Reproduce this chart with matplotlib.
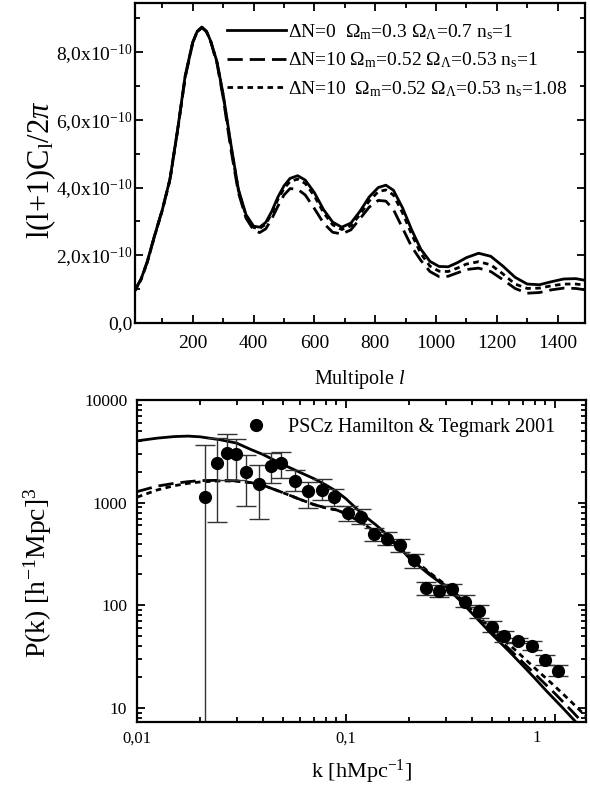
import numpy as np
import matplotlib
matplotlib.use("Agg")
import matplotlib.pyplot as plt
import matplotlib.transforms as mtransforms
from matplotlib.ticker import FixedLocator, MultipleLocator, LogLocator, NullFormatter

plt.rcParams['font.family'] = ['Liberation Serif', 'DejaVu Serif']
plt.rcParams['mathtext.fontset'] = 'custom'
plt.rcParams['mathtext.rm'] = 'Liberation Serif'
plt.rcParams['mathtext.it'] = 'Liberation Serif:italic'
plt.rcParams['mathtext.bf'] = 'Liberation Serif:bold'

# ---------------- Top panel data (CMB spectra, units of 1e-10) ----------------
SCALE = 1e-10
ell = [10, 30, 50, 75, 100, 125, 150, 175, 200, 215, 230, 245, 260, 280, 300,
       325, 350, 375, 400, 420, 440, 460, 480, 500, 520, 545, 570, 600, 630,
       660, 690, 720, 750, 780, 810, 835, 860, 890, 920, 950, 980, 1010, 1040,
       1070, 1100, 1140, 1180, 1220, 1260, 1300, 1340, 1380, 1420, 1460, 1490]
cl_dn0 = [0.97, 1.30, 1.80, 2.60, 3.35, 4.25, 5.70, 7.30, 8.30, 8.62, 8.74, 8.62,
          8.30, 7.70, 6.75, 5.30, 3.95, 3.20, 2.86, 2.83, 2.97, 3.30, 3.72, 4.05,
          4.27, 4.35, 4.22, 3.85, 3.35, 2.98, 2.83, 2.95, 3.30, 3.72, 4.00, 4.07,
          3.92, 3.40, 2.75, 2.18, 1.82, 1.67, 1.66, 1.78, 1.93, 2.06, 1.97, 1.68,
          1.35, 1.15, 1.13, 1.22, 1.30, 1.31, 1.26]
cl_dn10 = [0.97, 1.30, 1.80, 2.60, 3.35, 4.25, 5.70, 7.25, 8.28, 8.60, 8.72, 8.60,
           8.28, 7.65, 6.65, 5.15, 3.85, 3.10, 2.74, 2.67, 2.78, 3.08, 3.45, 3.78,
           3.97, 3.95, 3.78, 3.38, 2.95, 2.68, 2.63, 2.75, 3.08, 3.42, 3.62, 3.60,
           3.35, 2.80, 2.25, 1.85, 1.52, 1.37, 1.38, 1.48, 1.58, 1.62, 1.52, 1.28,
           1.02, 0.88, 0.90, 0.98, 1.03, 1.02, 0.98]
cl_dn10_ns = [0.95, 1.28, 1.78, 2.58, 3.33, 4.22, 5.67, 7.27, 8.29, 8.61, 8.73, 8.61,
              8.29, 7.68, 6.72, 5.25, 3.92, 3.17, 2.82, 2.79, 2.92, 3.24, 3.65, 3.97,
              4.18, 4.25, 4.12, 3.75, 3.26, 2.90, 2.76, 2.87, 3.20, 3.60, 3.88, 3.93,
              3.78, 3.25, 2.62, 2.05, 1.68, 1.53, 1.52, 1.62, 1.74, 1.81, 1.72, 1.45,
              1.15, 1.02, 1.03, 1.10, 1.15, 1.15, 1.12]
top_labels = [r"$\Delta$N=0  $\Omega_\mathregular{m}$=0.3 $\Omega_\mathregular{\Lambda}$=0.7 n$_\mathregular{s}$=1",
              r"$\Delta$N=10 $\Omega_\mathregular{m}$=0.52 $\Omega_\mathregular{\Lambda}$=0.53 n$_\mathregular{s}$=1",
              r"$\Delta$N=10  $\Omega_\mathregular{m}$=0.52 $\Omega_\mathregular{\Lambda}$=0.53 n$_\mathregular{s}$=1.08"]
top_xticks = [200, 400, 600, 800, 1000, 1200, 1400]
top_yticks = [0, 2, 4, 6, 8]
top_yticklabels = ["0,0", r"2,0x10$^\mathregular{-10}$", r"4,0x10$^\mathregular{-10}$",
                   r"6,0x10$^\mathregular{-10}$", r"8,0x10$^\mathregular{-10}$"]

# ---------------- Bottom panel data (matter power spectrum) ----------------
k_th = [0.01, 0.0125, 0.015, 0.0175, 0.02, 0.025, 0.03, 0.035, 0.04, 0.05, 0.06,
        0.07, 0.08, 0.09, 0.1, 0.12, 0.14, 0.16, 0.18, 0.2, 0.25, 0.3, 0.35, 0.4,
        0.5, 0.6, 0.7, 0.8, 0.9, 1.0, 1.1, 1.2, 1.3, 1.4]
pk_dn0 = [4000, 4250, 4400, 4450, 4380, 4100, 3800, 3300, 2950, 2350, 1980, 1720,
          1490, 1290, 1090, 770, 600, 470, 370, 290, 200, 152, 112, 84, 52, 36, 26,
          19.5, 15, 12, 9.8, 8.1, 6.8, 5.8]
pk_dn10 = [1280, 1450, 1540, 1600, 1640, 1650, 1630, 1570, 1480, 1250, 1080, 960,
           890, 850, 780, 630, 510, 440, 370, 300, 205, 155, 118, 86, 54, 38, 28,
           21.5, 17, 13.8, 11.3, 9.4, 7.9, 6.7]
pk_dn10_ns = [1130, 1330, 1460, 1540, 1590, 1630, 1620, 1565, 1480, 1250, 1080, 960,
              890, 850, 780, 630, 510, 440, 372, 305, 210, 158, 121, 90, 58, 42, 31.5,
              24.5, 19.7, 16.2, 13.5, 11.4, 9.7, 8.4]

k_obs = [0.0212, 0.02424, 0.02689, 0.02984, 0.03338, 0.03828, 0.04373, 0.04913,
         0.0573, 0.06572, 0.07664, 0.0879, 0.1017, 0.1176, 0.1360, 0.1573, 0.1805,
         0.2104, 0.2414, 0.2792, 0.3228, 0.3719, 0.4319, 0.4977, 0.5731, 0.6655,
         0.7729, 0.8941, 1.0295]
p_obs = [1136, 2455, 3076, 3008, 1992, 1510, 2280, 2455, 1626, 1300, 1330, 1136,
         787, 725, 491, 446, 384, 274, 146, 138, 145, 108, 87.7, 61.7, 50, 45.4,
         40, 29.6, 23.1]
p_lo = [1, 648, 1652, 1652, 928, 698, 1568, 1727, 1300, 881, 1053, 928, 662, 624,
        423, 387, 331, 232, 126, 121, 126, 96, 75.5, 55, 44, 43, 37, 26, 20.5]
p_hi = [3622, 4300, 4645, 4210, 2919, 2328, 3027, 3118, 2084, 1603, 1690, 1349, 928,
        861, 570, 517, 438, 313, 168, 157, 160, 126, 100, 70, 56.6, 47.6, 44.6, 33, 26]
obs_label = "PSCz Hamilton & Tegmark 2001"
bot_xticks = [0.01, 0.1, 1]
bot_xticklabels = ["0,01", "0,1", "1"]
bot_yticks = [10, 100, 1000, 10000]
bot_yticklabels = ["10", "100", "1000", "10000"]

# ---------------- Figure ----------------
W, H = 590, 788
fig = plt.figure(figsize=(W / 100, H / 100), dpi=100)

def frac(l, t, r, b):
    return [l / W, 1 - b / H, (r - l) / W, (b - t) / H]

ax1 = fig.add_axes(frac(135, 3, 585, 323))
ax2 = fig.add_axes(frac(137, 400, 586, 722))

for ax in (ax1, ax2):
    for s in ax.spines.values():
        s.set_linewidth(1.6)
    ax.tick_params(which='both', direction='in', top=True, right=True, width=1.3)
    ax.tick_params(which='major', length=6)
    ax.tick_params(which='minor', length=3.5)

# Top panel
l_arr = np.array(ell)
ax1.plot(l_arr, np.array(cl_dn0) * SCALE, color='black', lw=2.0, ls='-', label=top_labels[0])
ax1.plot(l_arr, np.array(cl_dn10) * SCALE, color='black', lw=2.0, ls=(0, (5.5, 2.5)), label=top_labels[1])
ax1.plot(l_arr, np.array(cl_dn10_ns) * SCALE, color='black', lw=2.0, ls=(0, (2, 1.6)), label=top_labels[2])
ax1.set_xlim(10, 1490)
ax1.set_ylim(0, 9.45e-10)
ax1.xaxis.set_major_locator(FixedLocator(top_xticks))
ax1.xaxis.set_minor_locator(MultipleLocator(100))
ax1.set_xticklabels([str(t) for t in top_xticks])
ax1.yaxis.set_major_locator(FixedLocator([v * SCALE for v in top_yticks]))
ax1.yaxis.set_minor_locator(MultipleLocator(1e-10))
ax1.set_yticklabels(top_yticklabels)
ax1.tick_params(axis='x', labelsize=14, pad=9)
ax1.tick_params(axis='y', labelsize=14, pad=2)
ax1.set_xlabel(r"Multipole $l$", fontsize=14.5)
ax1.xaxis.set_label_coords(0.5, -0.141)
ax1.set_ylabel(r"l(l+1)C$_\mathregular{l}$/2$\pi$", fontsize=22)
ax1.yaxis.set_label_coords(-0.172, 0.48)
ax1.legend(loc='upper left', bbox_to_anchor=(0.205, 0.94), frameon=False,
           fontsize=14, handlelength=3.0, handletextpad=0.1, labelspacing=0.45,
           borderpad=0, borderaxespad=0)

# Bottom panel
ax2.set_xscale('log')
ax2.set_yscale('log')
ax2.plot(k_th, pk_dn0, color='black', lw=2.0, ls='-')
ax2.plot(k_th, pk_dn10, color='black', lw=2.0, ls=(0, (5.5, 2.5)))
ax2.plot(k_th, pk_dn10_ns, color='black', lw=2.0, ls=(0, (2, 1.6)))
p_obs_a = np.array(p_obs)
yerr = [p_obs_a - np.array(p_lo), np.array(p_hi) - p_obs_a]
ax2.errorbar(k_obs, p_obs, yerr=yerr, fmt='none', ecolor='#333333', elinewidth=1.0,
             capsize=7, capthick=1.0)
ax2.plot(k_obs, p_obs, 'o', color='black', markersize=8.5, ls='none', label=obs_label)
ax2.set_xlim(0.01, 1.407)
ax2.set_ylim(7.3, 10000)
ax2.xaxis.set_major_locator(FixedLocator(bot_xticks))
ax2.xaxis.set_minor_locator(LogLocator(base=10, subs=np.arange(2, 10), numticks=20))
ax2.xaxis.set_minor_formatter(NullFormatter())
ax2.set_xticklabels(bot_xticklabels)
ax2.yaxis.set_major_locator(FixedLocator(bot_yticks))
ax2.yaxis.set_minor_locator(LogLocator(base=10, subs=np.arange(2, 10), numticks=20))
ax2.yaxis.set_minor_formatter(NullFormatter())
ax2.set_yticklabels(bot_yticklabels)
ax2.tick_params(axis='x', labelsize=12, pad=6)
ax2.tick_params(axis='y', labelsize=12.5, pad=7)
ax2.set_xlabel(r"k [hMpc$^\mathregular{-1}$]", fontsize=16)
ax2.xaxis.set_label_coords(0.5, -0.112)
ax2.set_ylabel(r"P(k) [h$^\mathregular{-1}$Mpc]$^\mathregular{3}$", fontsize=20)
ax2.yaxis.set_label_coords(-0.185, 0.465)
ax2.legend(loc='upper left', bbox_to_anchor=(0.22, 0.945), frameon=False, fontsize=14.5,
           handletextpad=0.6, borderpad=0, borderaxespad=0, numpoints=1)

# the "1" tick label sits left of its tick in the original
lab_one = ax2.get_xticklabels()[2]
lab_one.set_transform(lab_one.get_transform() +
                      mtransforms.ScaledTranslation(-0.18, 0, fig.dpi_scale_trans))

fig.savefig("out.png", dpi=100)
